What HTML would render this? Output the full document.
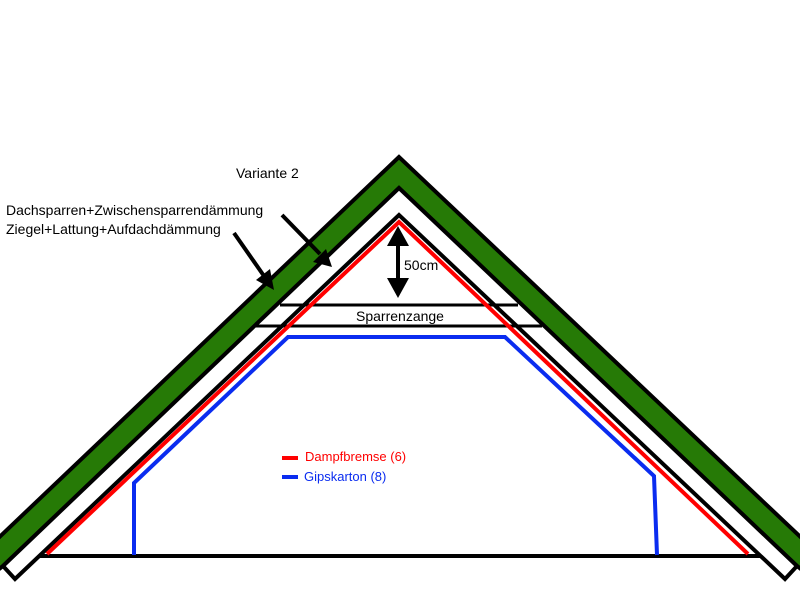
<!DOCTYPE html>
<html><head><style>body{margin:0;background:#fff}svg{display:block}</style></head><body>
<svg width="800" height="600" xmlns="http://www.w3.org/2000/svg" font-family="Liberation Sans, sans-serif">
<rect width="800" height="600" fill="#fff"/>
<!-- green roof -->
<polygon points="399,157 -10,546 -10,576 3,566 399,188 797,566 810,576 810,546" fill="#267a06" stroke="#000" stroke-width="4" stroke-linejoin="miter"/>
<!-- white rafter band -->
<polygon points="399,188 3,566 15,579 399,215 785,579 797,566" fill="#fff" stroke="#000" stroke-width="4"/>
<!-- floor -->
<line x1="40" y1="556" x2="760" y2="556" stroke="#000" stroke-width="4"/>
<!-- sparrenzange -->
<line x1="280" y1="305" x2="518" y2="305" stroke="#000" stroke-width="3"/>
<line x1="255" y1="326" x2="542" y2="326" stroke="#000" stroke-width="3"/>
<text x="400" y="321" font-size="14" text-anchor="middle">Sparrenzange</text>
<!-- red -->
<polyline points="47,554 399,222 748,554" fill="none" stroke="#f00" stroke-width="4"/>
<!-- blue -->
<polyline points="134,555 134,483 288,337 505,337 654,476 657,555" fill="none" stroke="#0a2cf0" stroke-width="4"/>
<!-- 50cm arrow -->
<line x1="398" y1="240" x2="398" y2="285" stroke="#000" stroke-width="4"/>
<polygon points="398,226 387,246 409,246" fill="#000"/>
<polygon points="398,298 387,278 409,278" fill="#000"/>
<text x="404" y="270" font-size="14">50cm</text>
<!-- pointer arrows -->
<line x1="282" y1="215" x2="320" y2="254" stroke="#000" stroke-width="4"/>
<polygon points="332,267 313,262 326,249" fill="#000"/>
<line x1="234" y1="233" x2="264" y2="276" stroke="#000" stroke-width="4"/>
<polygon points="274,290 256,280 270,269" fill="#000"/>
<!-- labels -->
<text x="236" y="178" font-size="14">Variante 2</text>
<text x="6" y="215" font-size="14">Dachsparren+Zwischensparrendämmung</text>
<text x="6" y="234" font-size="14">Ziegel+Lattung+Aufdachdämmung</text>
<!-- legend -->
<line x1="282" y1="458" x2="298" y2="458" stroke="#f00" stroke-width="4"/>
<text x="305" y="461" font-size="13" fill="#f00">Dampfbremse (6)</text>
<line x1="282" y1="477" x2="298" y2="477" stroke="#0a2cf0" stroke-width="4"/>
<text x="304" y="481" font-size="13" fill="#0a2cf0">Gipskarton (8)</text>
</svg>
</body></html>
